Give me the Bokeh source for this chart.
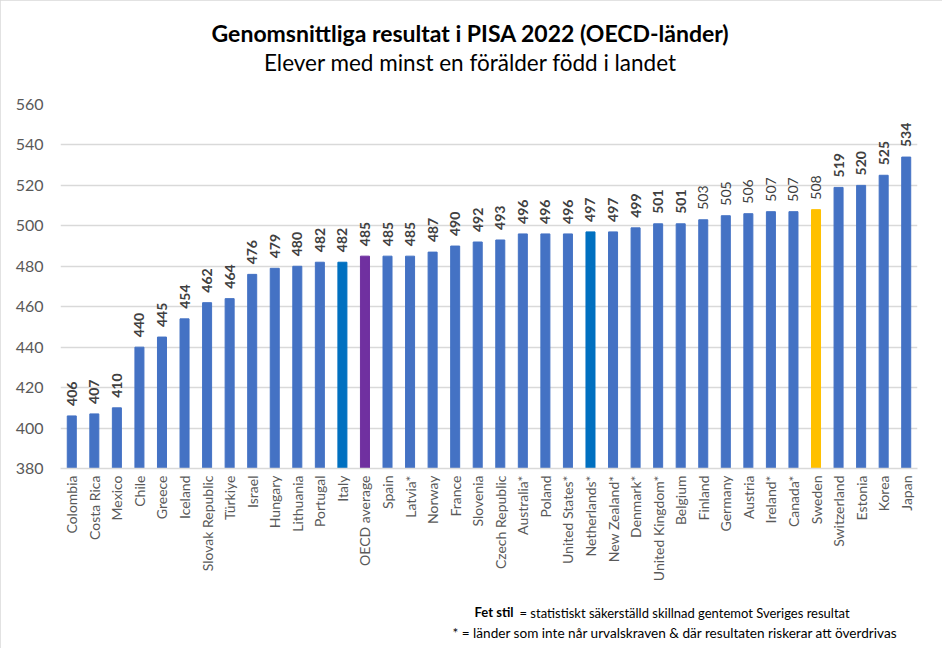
from math import pi
from bokeh.plotting import figure
from bokeh.models import ColumnDataSource, FactorRange, FixedTicker, Label
from bokeh.core.properties import value
from bokeh.embed import file_html
from bokeh.resources import INLINE

# ---- data ----
countries = ["Colombia", "Costa Rica", "Mexico", "Chile", "Greece", "Iceland",
             "Slovak Republic", "Türkiye", "Israel", "Hungary", "Lithuania", "Portugal",
             "Italy", "OECD average", "Spain", "Latvia*", "Norway", "France", "Slovenia",
             "Czech Republic", "Australia*", "Poland", "United States*", "Netherlands*",
             "New Zealand*", "Denmark*", "United Kingdom*", "Belgium", "Finland", "Germany",
             "Austria", "Ireland*", "Canada*", "Sweden", "Switzerland", "Estonia", "Korea", "Japan"]
scores = [406, 407, 410, 440, 445, 454, 462, 464, 476, 479, 480, 482, 482, 485, 485, 485,
          487, 490, 492, 493, 496, 496, 496, 497, 497, 499, 501, 501, 503, 505, 506, 507,
          507, 508, 519, 520, 525, 534]
# statistically significant difference vs Sweden (shown in bold)
significant = [True] * 28 + [False] * 6 + [True] * 4
y_ticks = [380, 400, 420, 440, 460, 480, 500, 520, 540, 560]

title_text = "Genomsnittliga resultat i PISA 2022 (OECD-länder)"
subtitle_text = "Elever med minst en förälder född i landet"
note_bold = "Fet stil"
note_rest = "= statistiskt säkerställd skillnad gentemot Sveriges resultat"
note_star = "* = länder som inte når urvalskraven & där resultaten riskerar att överdrivas"

# ---- styling ----
special = {"Italy": "#0070C0", "Netherlands*": "#0070C0",
           "OECD average": "#7030A0", "Sweden": "#FFC000"}
colors = [special.get(c, "#4472C4") for c in countries]
styles = ["bold" if s else "normal" for s in significant]
labels = [str(v) for v in scores]

source = ColumnDataSource(dict(x=countries, top=scores, color=colors,
                               style=styles, label=labels))

FONT = "Lato"
p = figure(width=942, height=648, output_backend="svg", toolbar_location=None,
           x_range=FactorRange(*countries, range_padding=0),
           y_range=(380, 560),
           min_border_left=60, min_border_right=25, min_border_top=104,
           min_border_bottom=180)
p.styles = {"outline": "1px solid #D9D9D9", "outline-offset": "-1px"}
p.outline_line_color = None

p.vbar(x="x", top="top", bottom=380, width=0.4, color="color", source=source)
p.text(x="x", y="top", text="label", source=source, angle=pi / 2,
       text_align="left", text_baseline="middle", y_offset=-10,
       text_font=value(FONT), text_font_size="14px", text_font_style="style",
       text_color="#404040")

p.xgrid.grid_line_color = None
p.ygrid.grid_line_color = "#D9D9D9"
p.ygrid.grid_line_width = 1.3
p.yaxis.ticker = FixedTicker(ticks=y_ticks)
p.yaxis.axis_line_color = None
p.yaxis.major_tick_line_color = None
p.yaxis.minor_tick_line_color = None
p.yaxis.major_tick_out = 0
p.yaxis.major_label_standoff = 17
p.yaxis.major_label_text_font = FONT
p.yaxis.major_label_text_font_size = "16px"
p.yaxis.major_label_text_color = "#595959"

p.xaxis.axis_line_color = "#D9D9D9"
p.xaxis.axis_line_width = 1.3
p.xaxis.major_tick_line_color = None
p.xaxis.major_tick_out = 0
p.xaxis.major_tick_in = 0
p.xaxis.major_label_orientation = pi / 2
p.xaxis.major_label_standoff = 7
p.xaxis.major_label_text_font = FONT
p.xaxis.major_label_text_font_size = "14px"
p.xaxis.major_label_text_color = "#595959"


def lab(text, x, y, size, bold=False, align="left"):
    return Label(x=x, y=y, x_units="screen", y_units="screen", text=text,
                 text_align=align, text_baseline="middle", text_font=FONT,
                 text_font_size=size, text_font_style="bold" if bold else "normal",
                 text_color="black")


# titles: placed in the panels above the plot (subtitle first = nearest)
p.add_layout(lab(subtitle_text, 410, 42, "22.5px", align="center"), "above")
p.add_layout(lab(title_text, 410, 45, "23px", bold=True, align="center"), "above")

# notes: placed in panels below the x axis
p.add_layout(lab(note_bold, 453, -11, "13px", bold=True, align="right"), "below")
p.add_layout(lab(note_rest, 459, 4, "13px"), "below")
p.add_layout(lab(note_star, 392, 0, "13.6px"), "below")

open("out.html", "w").write(file_html(p, INLINE))
